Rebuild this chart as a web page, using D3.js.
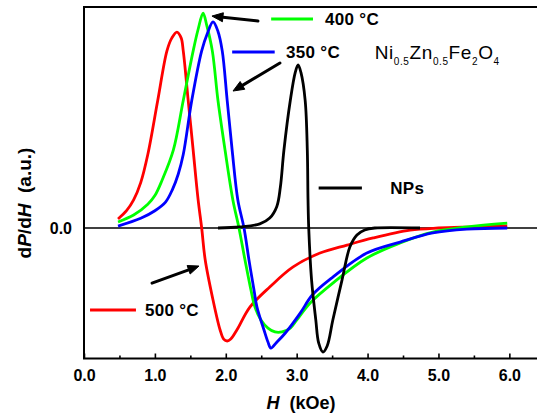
<!DOCTYPE html>
<html>
<head>
<meta charset="utf-8">
<script src="https://cdn.jsdelivr.net/npm/d3@7/dist/d3.min.js"></script>
<style>
  html, body { margin: 0; padding: 0; background: #fff; }
  svg { display: block; }
  text { font-family: "Liberation Sans", Arial, sans-serif; }
</style>
</head>
<body>
<svg id="chart" width="537" height="414"></svg>
<script>
// ---- data (H in kOe, dP/dH in arbitrary units) ----
const h500 = [0.48,0.60,0.70,0.80,0.90,1.04,1.17,1.24,1.31,1.37,1.40,1.47,1.54,1.61,1.66,1.71,1.82,1.92,1.97,2.02,2.07,2.16,2.34,2.62,2.95,3.33,3.71,4.08,4.60,5.00,5.50,5.97];
const v500 = [0.042,0.08,0.13,0.21,0.34,0.59,0.82,0.88,0.907,0.88,0.82,0.59,0.36,0.13,0.0,-0.148,-0.333,-0.472,-0.514,-0.523,-0.514,-0.47,-0.366,-0.273,-0.18,-0.116,-0.079,-0.046,-0.01,0.0,0.005,0.01];

const h400 = [0.48,0.70,0.90,1.00,1.10,1.26,1.40,1.54,1.61,1.68,1.73,1.81,1.89,1.99,2.10,2.186,2.271,2.355,2.412,2.496,2.595,2.694,2.793,2.91,3.00,3.19,3.51,3.99,4.46,4.92,5.40,5.97];
const v400 = [0.028,0.06,0.11,0.15,0.22,0.36,0.59,0.82,0.92,0.995,0.94,0.82,0.59,0.36,0.13,0.0,-0.148,-0.287,-0.366,-0.426,-0.463,-0.481,-0.481,-0.463,-0.426,-0.347,-0.255,-0.139,-0.069,-0.019,0.005,0.023];

const h350 = [0.48,0.80,1.00,1.15,1.25,1.33,1.40,1.52,1.66,1.74,1.82,1.89,1.95,2.02,2.09,2.17,2.257,2.327,2.398,2.44,2.539,2.595,2.637,2.71,2.84,3.05,3.22,3.51,3.99,4.46,4.92,5.40,5.97];
const v350 = [0.009,0.045,0.08,0.12,0.18,0.25,0.34,0.59,0.82,0.90,0.954,0.91,0.82,0.59,0.36,0.13,0.0,-0.148,-0.287,-0.366,-0.472,-0.528,-0.556,-0.532,-0.486,-0.394,-0.31,-0.227,-0.116,-0.065,-0.023,-0.005,0.0];

const hNP = [1.89,2.20,2.48,2.62,2.72,2.77,2.82,2.91,2.98,3.02,3.06,3.12,3.15,3.16,3.17,3.21,3.27,3.31,3.37,3.43,3.51,3.64,3.75,3.85,3.96,4.10,4.74];
const vNP = [0.0,0.005,0.019,0.046,0.10,0.19,0.36,0.59,0.72,0.755,0.72,0.59,0.36,0.13,0.0,-0.24,-0.426,-0.532,-0.574,-0.546,-0.426,-0.24,-0.088,-0.032,-0.009,0.0,0.0];

const seriesLabels = ["500 °C", "400 °C", "350 °C", "NPs"];
const seriesColors = ["#ff0000", "#00ff00", "#0000ff", "#000000"];
const xTicks = [0,1,2,3,4,5,6];
const xMinorTicks = [0.5,1.5,2.5,3.5,4.5,5.5];
const yTicks = [0];

// ---- layout ----
const svg = d3.select("#chart");
const mLeft = 84, mTop = 7, mBottom = 358.5, mRight = 537;
const x = d3.scaleLinear().domain([0, 6.39]).range([mLeft, mRight]);
const y = d3.scaleLinear().domain([-0.604, 1.023]).range([mBottom, mTop]);

const series = [
  {h: h500, v: v500},
  {h: h400, v: v400},
  {h: h350, v: v350},
  {h: hNP,  v: vNP}
];

// zero line
svg.append("line")
  .attr("x1", x(0)).attr("x2", mRight + 5)
  .attr("y1", y(0)).attr("y2", y(0))
  .attr("stroke", "#000").attr("stroke-width", 1.5);

// curves
const line = d3.line()
  .x(d => x(d[0])).y(d => y(d[1]))
  .curve(d3.curveCatmullRom.alpha(0.5));

series.forEach((s, i) => {
  const pts = s.h.map((hv, j) => [hv, s.v[j]]);
  svg.append("path")
    .datum(pts)
    .attr("d", line)
    .attr("fill", "none")
    .attr("stroke", seriesColors[i])
    .attr("stroke-width", 2.8)
    .attr("stroke-linejoin", "round");
});

// frame: left and top
svg.append("line").attr("x1", mLeft).attr("x2", mLeft).attr("y1", mTop).attr("y2", mBottom)
  .attr("stroke", "#000").attr("stroke-width", 2);
svg.append("line").attr("x1", mLeft - 1).attr("x2", mRight + 5).attr("y1", mTop).attr("y2", mTop)
  .attr("stroke", "#000").attr("stroke-width", 2);

// x axis (ticks inward)
const xAxis = svg.append("g").attr("transform", `translate(0,${mBottom})`)
  .call(d3.axisBottom(x).tickValues(xTicks).tickFormat(d3.format(".1f"))
    .tickSizeInner(-5).tickSizeOuter(0).tickPadding(11));
xAxis.select(".domain").remove();
xAxis.selectAll(".tick line").attr("stroke", "#000").attr("stroke-width", 1.6);
xAxis.selectAll("text").attr("font-size", 16).attr("font-weight", "bold").attr("fill", "#000");

const xMinor = svg.append("g").attr("transform", `translate(0,${mBottom})`)
  .call(d3.axisBottom(x).tickValues(xMinorTicks).tickFormat("").tickSizeInner(-3).tickSizeOuter(0));
xMinor.select(".domain").remove();
xMinor.selectAll(".tick line").attr("stroke", "#000").attr("stroke-width", 1.6);

svg.append("line").attr("x1", mLeft - 1).attr("x2", mRight + 5).attr("y1", mBottom).attr("y2", mBottom)
  .attr("stroke", "#000").attr("stroke-width", 2);

// y axis label (only 0.0)
const yAxis = svg.append("g").attr("transform", `translate(${mLeft},0)`)
  .call(d3.axisLeft(y).tickValues(yTicks).tickFormat(d3.format(".1f")).tickSize(0).tickPadding(12));
yAxis.select(".domain").remove();
yAxis.selectAll("text").attr("font-size", 16).attr("font-weight", "bold").attr("fill", "#000");

// axis titles
const xt = svg.append("text")
  .attr("x", 301).attr("y", 409)
  .attr("text-anchor", "middle")
  .attr("font-size", 18).attr("font-weight", "bold")
  .style("white-space", "pre");
xt.append("tspan").attr("font-style", "italic").text("H");
xt.append("tspan").text("  (kOe)");

const yt = svg.append("text")
  .attr("transform", "translate(31,203) rotate(-90)")
  .attr("text-anchor", "middle")
  .attr("font-size", 19).attr("font-weight", "bold")
  .style("white-space", "pre");
yt.append("tspan").text("d");
yt.append("tspan").attr("font-style", "italic").text("P");
yt.append("tspan").text("/d");
yt.append("tspan").attr("font-style", "italic").text("H");
yt.append("tspan").text("  (a.u.)");

// legend entries (line + label), positioned in data coordinates
const legendPos = [
  {x0: 0.085, x1: 0.733, yv: -0.38, tx: 0.86},   // 500
  {x0: 2.64,  x1: 3.23,  yv: 0.968, tx: 3.40},   // 400
  {x0: 2.09,  x1: 2.69,  yv: 0.815, tx: 2.85},   // 350
  {x0: 3.31,  x1: 3.92,  yv: 0.185, tx: 4.32}    // NPs
];
legendPos.forEach((p, i) => {
  svg.append("line")
    .attr("x1", x(p.x0)).attr("x2", x(p.x1))
    .attr("y1", y(p.yv)).attr("y2", y(p.yv))
    .attr("stroke", seriesColors[i]).attr("stroke-width", 3);
  svg.append("text")
    .attr("x", x(p.tx)).attr("y", y(p.yv)).attr("dy", "0.36em")
    .attr("font-size", 17).attr("font-weight", "bold").attr("fill", "#000")
    .attr("letter-spacing", 0.3)
    .style("white-space", "pre")
    .text(seriesLabels[i]);
});

// arrows
const arrows = [
  {from: [2.454, 0.958], to: [1.805, 0.981]},
  {from: [2.764, 0.764], to: [2.102, 0.634]},
  {from: [0.959, -0.255], to: [1.622, -0.176]}
];
arrows.forEach(a => {
  const x1 = x(a.from[0]), y1 = y(a.from[1]), x2 = x(a.to[0]), y2 = y(a.to[1]);
  const ang = Math.atan2(y2 - y1, x2 - x1);
  const L = 11, W = 4.5;
  const bx = x2 - L * Math.cos(ang), by = y2 - L * Math.sin(ang);
  svg.append("line").attr("x1", x1).attr("y1", y1).attr("x2", bx).attr("y2", by)
    .attr("stroke", "#000").attr("stroke-width", 3).attr("stroke-linecap", "round");
  svg.append("path")
    .attr("d", `M${x2},${y2} L${bx - W * Math.sin(ang)},${by + W * Math.cos(ang)} L${bx + W * Math.sin(ang)},${by - W * Math.cos(ang)} Z`)
    .attr("fill", "#000").attr("stroke", "#000").attr("stroke-width", 1);
});

// formula
const f = svg.append("text")
  .attr("x", x(4.10)).attr("y", y(0.81) + 6)
  .attr("font-size", 19).attr("fill", "#000")
  .attr("letter-spacing", 0.6);
const parts = [["Ni","0.5"],["Zn","0.5"],["Fe","2"],["O","4"]];
parts.forEach((p, k) => {
  f.append("tspan").attr("font-size", 19).attr("dy", k === 0 ? 0 : -6).text(p[0]);
  f.append("tspan").attr("font-size", 10).attr("dy", 6).text(p[1]);
});
</script>
</body>
</html>
